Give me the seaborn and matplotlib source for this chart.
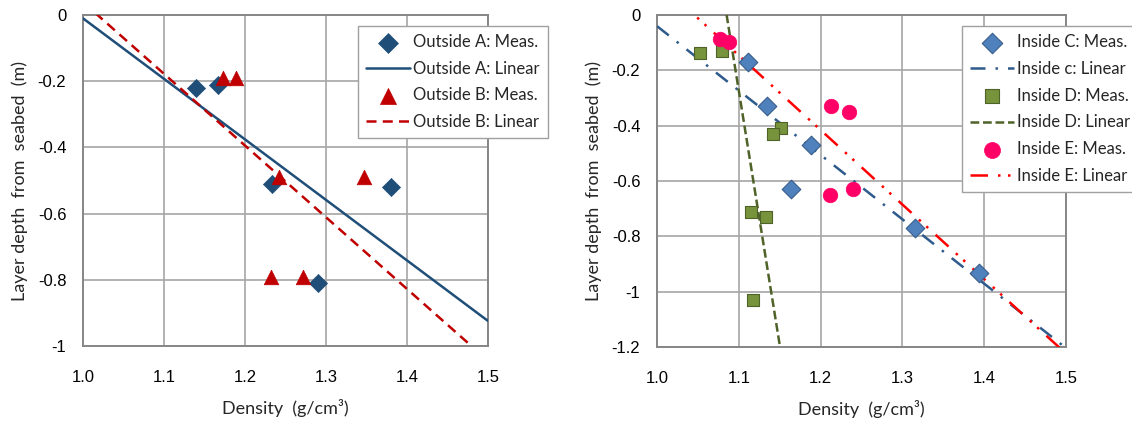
import numpy as np
import pandas as pd
import matplotlib
matplotlib.use("Agg")
import matplotlib.pyplot as plt
import seaborn as sns
from matplotlib.ticker import MultipleLocator, FuncFormatter

# ---------------- data ----------------
outA_x = [1.140, 1.167, 1.233, 1.380, 1.290]
outA_y = [-0.22, -0.21, -0.51, -0.52, -0.81]
outB_x = [1.173, 1.189, 1.242, 1.347, 1.232, 1.272]
outB_y = [-0.19, -0.19, -0.49, -0.49, -0.79, -0.79]
linA_x = [1.0, 1.5]
linA_y = [-0.010, -0.924]
linB_x = [1.0, 1.5]
linB_y = [0.039, -1.044]

inC_x = [1.111, 1.135, 1.188, 1.164, 1.316, 1.394]
inC_y = [-0.17, -0.33, -0.47, -0.63, -0.77, -0.93]
inD_x = [1.053, 1.079, 1.152, 1.142, 1.115, 1.133, 1.117]
inD_y = [-0.14, -0.13, -0.41, -0.43, -0.71, -0.73, -1.03]
inE_x = [1.077, 1.088, 1.213, 1.235, 1.212, 1.239]
inE_y = [-0.09, -0.10, -0.33, -0.35, -0.65, -0.63]
linC_x = [1.0, 1.5]
linC_y = [-0.042, -1.202]
linD_x = [1.085, 1.1505]
linD_y = [0.0, -1.2]
linE_x = [1.0, 1.5]
linE_y = [0.121, -1.222]

xticks = [1.0, 1.1, 1.2, 1.3, 1.4, 1.5]
left_yticks = [0, -0.2, -0.4, -0.6, -0.8, -1]
right_yticks = [0, -0.2, -0.4, -0.6, -0.8, -1, -1.2]

xlabel = "Density  (g/cm\u00b3)"
ylabel = "Layer depth  from  seabed  (m)"

# ---------------- style ----------------
sns.set_theme(style="white")
plt.rcParams["font.family"] = ["Lato", "DejaVu Sans"]

fig = plt.figure(figsize=(11.32, 4.23), dpi=100)
axL = fig.add_axes([0.0733, 0.182, 0.3577, 0.7825])
axR = fig.add_axes([0.5804, 0.1785, 0.3613, 0.7872])

GRID = "#A6A6A6"
SPINE = "#868686"


def style_axis(ax, ylim, yticks):
    ax.set_xlim(1.0, 1.5)
    ax.set_ylim(*ylim)
    ax.set_xticks(xticks)
    ax.set_yticks(yticks)
    ax.xaxis.set_minor_locator(MultipleLocator(0.05))
    ax.yaxis.set_minor_locator(MultipleLocator(0.05))
    ax.xaxis.set_major_formatter(FuncFormatter(lambda v, p: f"{v:.1f}"))
    ax.yaxis.set_major_formatter(FuncFormatter(lambda v, p: "0" if abs(v) < 1e-9 else f"{v:g}"))
    ax.grid(True, which="major", color=GRID, linewidth=1.2)
    ax.set_axisbelow(True)
    for s in ax.spines.values():
        s.set_color(SPINE)
        s.set_linewidth(1.4)
    ax.tick_params(which="both", direction="in", color=SPINE)
    ax.tick_params(which="major", length=0, width=1, labelsize=12,
                   labelfontfamily="Liberation Sans", labelcolor="#000000")
    ax.tick_params(which="minor", length=4, width=1)
    ax.tick_params(axis="y", which="major", pad=12)
    ax.tick_params(axis="x", which="major", pad=17)
    ax.set_xlabel(xlabel, fontsize=13, labelpad=10)
    ax.set_ylabel(ylabel, fontsize=13, labelpad=7)


# ---------------- left panel ----------------
style_axis(axL, (-1.0, 0.0), left_yticks)
sns.scatterplot(x=outA_x, y=outA_y, ax=axL, marker="D", s=85, color="#1F4E79",
                edgecolor="#1F4E79", linewidth=0.5, label="Outside A: Meas.", zorder=4)
sns.lineplot(x=linA_x, y=linA_y, ax=axL, color="#1F4E79", linewidth=1.8,
             label="Outside A: Linear", zorder=3)
sns.scatterplot(x=outB_x, y=outB_y, ax=axL, marker="^", s=110, color="#C00000",
                edgecolor="#C00000", linewidth=0.5, label="Outside B: Meas.", zorder=4)
sns.lineplot(x=linB_x, y=linB_y, ax=axL, color="#C00000", linewidth=1.8,
             linestyle=(0, (4, 2.5)), label="Outside B: Linear", zorder=3)

# ---------------- right panel ----------------
style_axis(axR, (-1.2, 0.0), right_yticks)
sns.scatterplot(x=inC_x, y=inC_y, ax=axR, marker="D", s=90, color="#4F81BD",
                edgecolor="#385D8A", linewidth=0.8, label="Inside C: Meas.", zorder=4)
sns.lineplot(x=linC_x, y=linC_y, ax=axR, color="#2E5A8C", linewidth=1.8,
             linestyle=(0, (6, 4, 1, 4)), label="Inside c: Linear", zorder=3)
sns.scatterplot(x=inD_x, y=inD_y, ax=axR, marker="s", s=75, color="#77933C",
                edgecolor="#4F6228", linewidth=0.8, label="Inside D: Meas.", zorder=4)
sns.lineplot(x=linD_x, y=linD_y, ax=axR, color="#4F6228", linewidth=1.8,
             linestyle=(0, (3.5, 1.5)), label="Inside D: Linear", zorder=3)
sns.scatterplot(x=inE_x, y=inE_y, ax=axR, marker="o", s=110, color="#FF0066",
                edgecolor="#FF0066", linewidth=0.5, label="Inside E: Meas.", zorder=4)
sns.lineplot(x=linE_x, y=linE_y, ax=axR, color="#FF0000", linewidth=1.8,
             linestyle=(0, (7, 4, 1, 3, 1, 4)), label="Inside E: Linear", zorder=3)


def make_legend(ax, order, anchor):
    h, l = ax.get_legend_handles_labels()
    d = dict(zip(l, h))
    leg = ax.legend([d[k] for k in order], order, loc="upper left",
                    bbox_to_anchor=anchor, frameon=True, fancybox=False,
                    framealpha=1, edgecolor="#A0A0A0", fontsize=12,
                    handlelength=2.6, handletextpad=0.2, labelspacing=0.64,
                    borderpad=0.5, borderaxespad=0, markerscale=1.1)
    leg.get_frame().set_linewidth(1.0)
    leg.set_zorder(10)
    return leg


make_legend(axL, ["Outside A: Meas.", "Outside A: Linear",
                  "Outside B: Meas.", "Outside B: Linear"], (0.679, 0.968))
make_legend(axR, ["Inside C: Meas.", "Inside c: Linear", "Inside D: Meas.",
                  "Inside D: Linear", "Inside E: Meas.", "Inside E: Linear"], (0.746, 0.965))

fig.savefig("out.png", dpi=100)
